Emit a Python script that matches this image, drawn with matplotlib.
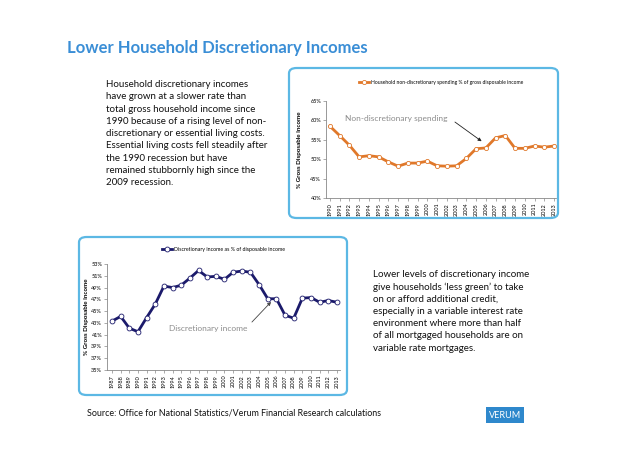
import matplotlib
matplotlib.use("Agg")
import matplotlib.pyplot as plt
from matplotlib.patches import FancyBboxPatch
from matplotlib.ticker import FuncFormatter

plt.rcParams['font.family'] = ['Lato', 'DejaVu Sans']

# non-discretionary spending, % of gross disposable income
spend_years = [str(y) for y in range(1990, 2014)]
spend_vals = [58.5, 56.1, 53.6, 50.6, 50.9, 50.6, 49.3, 48.2, 49.0, 49.0, 49.5, 48.3,
              48.2, 48.3, 50.2, 52.7, 52.9, 55.5, 56.1, 52.8, 52.8, 53.4, 53.1, 53.4]

# discretionary income, % of disposable income
disc_years = [str(y) for y in range(1987, 2014)]
disc_vals = [43.3, 44.1, 42.1, 41.5, 43.9, 46.2, 49.25, 49.0, 49.4, 50.6, 51.9, 50.8,
             50.9, 50.4, 51.6, 51.8, 51.6, 49.5, 47.1, 47.1, 44.3, 43.8, 47.2, 47.3,
             46.5, 46.8, 46.5]

W, H = 638, 451
BLUE = "#3a8ed6"
BOX = "#5cb8e4"
ORANGE = "#e0782a"
NAVY = "#1b1a6b"


def fx(px):
    return px / W


def fy(py):
    return 1 - py / H


def rect(l, t, r, b):
    return [fx(l), fy(b), fx(r) - fx(l), fy(t) - fy(b)]


fig = plt.figure(figsize=(W / 100, H / 100), dpi=100)

# rounded frames
for l, t, r, b in [(289, 68, 558, 218), (79, 237, 347, 395)]:
    fig.patches.append(FancyBboxPatch((fx(l), fy(b)), fx(r) - fx(l), fy(t) - fy(b),
                                      boxstyle="round,pad=0,rounding_size=0.012",
                                      transform=fig.transFigure, fill=False,
                                      edgecolor=BOX, linewidth=1.6))

fig.text(fx(67), fy(48), "Lower Household Discretionary Incomes", color=BLUE,
         fontsize=12, fontweight="bold", va="center", ha="left")

body1 = ("Household discretionary incomes\n"
         "have grown at a slower rate than\n"
         "total gross household income since\n"
         "1990 because of a rising level of non-\n"
         "discretionary or essential living costs.\n"
         "Essential living costs fell steadily after\n"
         "the 1990 recession but have\n"
         "remained stubbornly high since the\n"
         "2009 recession.")
fig.text(fx(106), fy(80), body1, fontsize=7, va="top", ha="left", linespacing=1.47,
         color="#111111")

body2 = ("Lower levels of discretionary income\n"
         "give households \u2018less green\u2019 to take\n"
         "on or afford additional credit,\n"
         "especially in a variable interest rate\n"
         "environment where more than half\n"
         "of all mortgaged households are on\n"
         "variable rate mortgages.")
fig.text(fx(373), fy(270), body2, fontsize=7, va="top", ha="left", linespacing=1.45,
         color="#111111")

fig.text(fx(87), fy(413), "Source: Office for National Statistics/Verum Financial Research calculations",
         fontsize=6.4, va="center", ha="left", color="#111111")
fig.text(fx(505), fy(415), "VERUM", fontsize=6.5, color="white", ha="center", va="center",
         bbox=dict(boxstyle="square,pad=0.35", facecolor="#2e88cc", edgecolor="none"))

pct = FuncFormatter(lambda v, p: f"{v:.0f}%")


def style(ax):
    for s in ["top", "right"]:
        ax.spines[s].set_visible(False)
    for s in ["left", "bottom"]:
        ax.spines[s].set_color("#888888")
        ax.spines[s].set_linewidth(0.6)
    ax.tick_params(labelsize=4, length=2, width=0.5, color="#888888", pad=1.5)
    ax.yaxis.set_major_formatter(pct)
    ax.set_facecolor("none")


# top chart
ax1 = fig.add_axes(rect(326, 101, 556, 198))
x1 = list(range(len(spend_years)))
ax1.plot(x1, spend_vals, color=ORANGE, lw=2, marker="o", ms=3, mfc="white", mec=ORANGE,
         mew=0.6, label="Household non-discretionary spending % of gross disposable income")
ax1.set_ylim(40, 65)
ax1.set_yticks(range(40, 66, 5))
ax1.set_xlim(-0.4, len(x1) - 0.8)
ax1.set_xticks(x1)
ax1.set_xticklabels(spend_years, rotation=90)
style(ax1)
ax1.set_ylabel("% Gross Disposable Income", fontsize=4.5, fontweight="bold", labelpad=6)
ax1.legend(loc="center", bbox_to_anchor=(0.5, 1.19), frameon=False, fontsize=3.6,
           handlelength=2.0, handletextpad=0.3)
ax1.annotate("", xy=(15.8, 54.2), xytext=(12.6, 60.0),
             arrowprops=dict(arrowstyle="-|>", color="#222222", lw=0.6, mutation_scale=5))
ax1.text(12.1, 60.6, "Non-discretionary spending", fontsize=6.0, color="#8c8c8c",
         ha="right", va="center")

# bottom chart
ax2 = fig.add_axes(rect(107, 264, 340, 370))
x2 = list(range(len(disc_years)))
ax2.plot(x2, disc_vals, color=NAVY, lw=2, marker="o", ms=3.5, mfc="white", mec=NAVY,
         mew=0.6, label="Discretionary income as % of disposable income")
ax2.set_ylim(35, 53)
ax2.set_yticks(range(35, 54, 2))
ax2.set_xlim(-0.58, len(x2) - 0.65)
ax2.set_xticks(x2)
ax2.set_xticklabels(disc_years, rotation=90)
style(ax2)
ax2.set_ylabel("% Gross Disposable Income", fontsize=4.5, fontweight="bold", labelpad=1.5)
ax2.legend(loc="center", bbox_to_anchor=(0.5, 1.14), frameon=False, fontsize=3.8,
           handlelength=2.0, handletextpad=0.3)
ax2.annotate("", xy=(18.6, 46.9), xytext=(15.95, 42.8),
             arrowprops=dict(arrowstyle="-|>", color="#444444", lw=0.6, mutation_scale=5))
ax2.text(15.7, 42.1, "Discretionary income", fontsize=6.0, color="#8c8c8c",
         ha="right", va="center")

fig.savefig("out.png", dpi=100)
